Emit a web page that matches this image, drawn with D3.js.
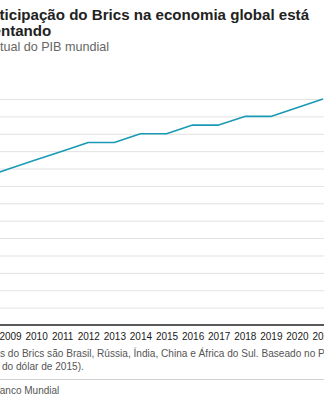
<!DOCTYPE html>
<html>
<head>
<meta charset="utf-8">
<script src="https://cdn.jsdelivr.net/npm/d3@7"></script>
<style>
  html, body { margin: 0; padding: 0; background: #fff; overflow: hidden; }
  svg { display: block; font-family: "Liberation Sans", Arial, Helvetica, sans-serif; }
</style>
</head>
<body>
<svg id="chart" width="324" height="400"></svg>
<script>
// Participação do Brics no PIB mundial (% , dólar constante de 2015)
const years = [2008, 2009, 2010, 2011, 2012, 2013, 2014, 2015, 2016, 2017, 2018, 2019, 2020, 2021];
const shares = [17, 18, 19, 20, 21, 21, 22, 22, 23, 23, 24, 24, 25, 26];
const yTicks = [0, 2, 4, 6, 8, 10, 12, 14, 16, 18, 20, 22, 24, 26];
const xTickYears = [2009, 2010, 2011, 2012, 2013, 2014, 2015, 2016, 2017, 2018, 2019, 2020, 2021];

const titleLines = ["A participação do Brics na economia global está", "aumentando"];
const subtitle = "Percentual do PIB mundial";
const noteLines = [
  "Os países do Brics são Brasil, Rússia, Índia, China e África do Sul. Baseado no PIB",
  "(a preços do dólar de 2015)."
];
const source = "Fonte: Banco Mundial";

const svg = d3.select("#chart");
const left = -38, right = 360;

const x = d3.scaleLinear().domain([2009, 2021]).range([10, 323]);
const y = d3.scaleLinear().domain([0, 26]).range([325, 99]);

// Title and subtitle
const title = svg.append("text")
  .attr("x", left).attr("y", 19.5)
  .attr("font-size", 15.1).attr("font-weight", "bold").attr("fill", "#222");
title.selectAll("tspan").data(titleLines).join("tspan")
  .attr("x", left - 0.5).attr("dy", (d, i) => i === 0 ? 0 : 16.5)
  .text(d => d);

svg.append("text")
  .attr("x", -40).attr("y", 51)
  .attr("font-size", 12.6).attr("fill", "#666")
  .text(subtitle);

// Horizontal gridlines
svg.append("g")
  .attr("transform", `translate(${left},0)`)
  .call(d3.axisLeft(y).tickValues(yTicks.filter(v => v > 0)).tickSize(-(right - left)).tickFormat(""))
  .call(g => g.select(".domain").remove())
  .call(g => g.selectAll(".tick line").attr("stroke", "#e2e2e2").attr("stroke-width", 1));

// Series line
const line = d3.line()
  .x((d, i) => x(years[i]))
  .y(d => y(d));

svg.append("path")
  .datum(shares)
  .attr("fill", "none")
  .attr("stroke", "#1a9ab5")
  .attr("stroke-width", 1.6)
  .attr("stroke-linejoin", "round")
  .attr("d", line);

// Baseline and year labels
svg.append("line")
  .attr("x1", left).attr("x2", right)
  .attr("y1", y(0)).attr("y2", y(0))
  .attr("stroke", "#222").attr("stroke-width", 1.5);

svg.append("g")
  .attr("transform", `translate(0,${y(0)})`)
  .call(d3.axisBottom(x).tickValues(xTickYears).tickSize(0).tickPadding(8).tickFormat(d3.format("d")))
  .call(g => g.select(".domain").remove())
  .call(g => g.selectAll("text")
    .attr("font-size", 10)
    .attr("font-family", "'Liberation Sans', Arial, sans-serif")
    .attr("fill", "#1a1a1a"));

// Notes
const note = svg.append("text")
  .attr("y", 357)
  .attr("font-size", 10.1).attr("fill", "#555");
note.selectAll("tspan").data(noteLines).join("tspan")
  .attr("x", (d, i) => i === 0 ? -40.4 : -43)
  .attr("dy", (d, i) => i === 0 ? 0 : 13)
  .text(d => d);

svg.append("line")
  .attr("x1", left).attr("x2", right)
  .attr("y1", 379.5).attr("y2", 379.5)
  .attr("stroke", "#d0d0d0").attr("stroke-width", 1);

svg.append("text")
  .attr("x", left).attr("y", 394)
  .attr("font-size", 10).attr("fill", "#555")
  .text(source);
</script>
</body>
</html>
